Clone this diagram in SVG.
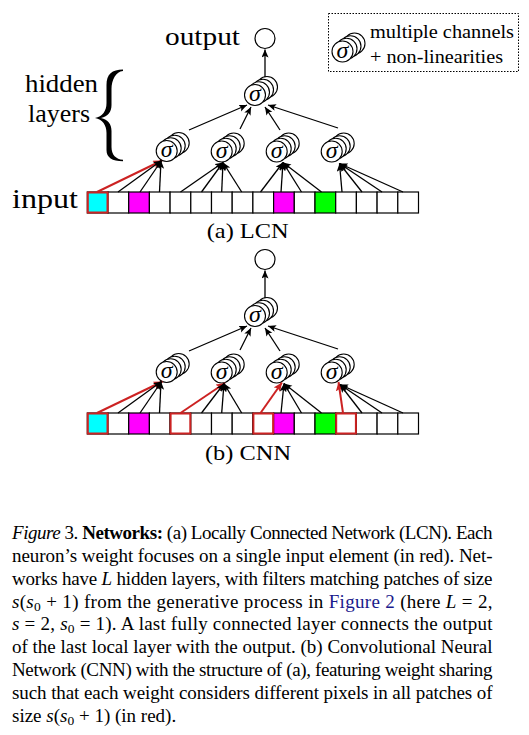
<svg xmlns="http://www.w3.org/2000/svg" xmlns:xlink="http://www.w3.org/1999/xlink" width="529" height="735" viewBox="0 0 529 735">
<style>
.bg{fill:#ffffff}
.c circle{fill:#ffffff;stroke:#000;stroke-width:1.1}
.sig{font-family:"Liberation Serif",serif;font-style:italic;font-size:24px;text-anchor:middle;fill:#000}
.lbl{font-family:"Liberation Serif",serif;fill:#000}
.cell{fill:#ffffff;stroke:#000;stroke-width:1.2}
.red{fill:none;stroke:#cc2222;stroke-width:2}
.ln{stroke:#000;stroke-width:1.3;fill:none;marker-end:url(#ah)}
.lr{stroke:#cc2222;stroke-width:2;fill:none;marker-end:url(#ahr)}
.cap{font-family:"Liberation Serif",serif;font-size:19px;fill:#000}
.it{font-style:italic}
</style>
<defs>
<marker id="ah" markerUnits="userSpaceOnUse" markerWidth="10" markerHeight="8" refX="8" refY="3.5" orient="auto"><path d="M0,0 L8,3.5 L0,7 L1.8,3.5 z" fill="#000"/></marker>
<marker id="ahr" markerUnits="userSpaceOnUse" markerWidth="10" markerHeight="9" refX="9" refY="4" orient="auto"><path d="M0,0 L9,4 L0,8 L2,4 z" fill="#cc2222"/></marker>
<g id="stk" class="c">
<circle cx="12" cy="-8" r="10.5"/>
<circle cx="8" cy="-5.3" r="10.5"/>
<circle cx="4" cy="-2.7" r="10.5"/>
<circle cx="0" cy="0" r="10.5"/>
<text class="sig" x="0" y="6">σ</text>
</g>
</defs>
<rect class="bg" x="0" y="0" width="529" height="735"/>

<!-- Legend -->
<g id="legend">
<rect x="328.5" y="13.5" width="190" height="58" fill="none" stroke="#000" stroke-width="1" stroke-dasharray="1.5,1.5"/>
<use xlink:href="#stk" x="342.5" y="51.5"/>
<text class="lbl" x="370" y="38.3" font-size="19" textLength="144" lengthAdjust="spacingAndGlyphs">multiple channels</text>
<text class="lbl" x="370" y="63.3" font-size="19" textLength="133" lengthAdjust="spacingAndGlyphs">+ non-linearities</text>
</g>

<!-- LCN labels -->
<g id="lcn-labels">
<text class="lbl" x="165" y="45" font-size="25" textLength="75" lengthAdjust="spacingAndGlyphs">output</text>
<text class="lbl" x="25" y="91.7" font-size="25" textLength="73" lengthAdjust="spacingAndGlyphs">hidden</text>
<text class="lbl" x="28" y="121.7" font-size="25" textLength="62" lengthAdjust="spacingAndGlyphs">layers</text>
<path d="M123,69.5 C112,69.5 106.5,74 106.5,85 L106.5,103 C106.5,111 102.5,116.5 95,118 C102.5,119.5 106.5,125 106.5,133 L106.5,150 C106.5,157.5 112,161.3 123,161.3 L123,159.8 C116,159.2 111.5,155 111.5,147 L111.5,131 C111.5,124 108,119.5 101,118 C108,116.5 111.5,112 111.5,105 L111.5,89 C111.5,80 116,71.5 123,71 Z" fill="#000"/>
<text class="lbl" x="12" y="208.3" font-size="27" textLength="66" lengthAdjust="spacingAndGlyphs">input</text>
<text class="lbl" x="206.7" y="238.3" font-size="22" textLength="82" lengthAdjust="spacingAndGlyphs">(a) LCN</text>
</g>

<!-- LCN nodes -->
<g id="lcn-output"><circle cx="265" cy="38.5" r="10" fill="#fff" stroke="#000" stroke-width="1.2"/></g>
<g id="lcn-h2"><use xlink:href="#stk" x="255" y="95"/></g>
<g id="lcn-h1-1"><use xlink:href="#stk" x="166.7" y="151"/></g>
<g id="lcn-h1-2"><use xlink:href="#stk" x="221.7" y="151.5"/></g>
<g id="lcn-h1-3"><use xlink:href="#stk" x="276.7" y="151.5"/></g>
<g id="lcn-h1-4"><use xlink:href="#stk" x="331.7" y="151.5"/></g>
<g id="lcn-input">
<rect class="cell" x="87.3" y="192" width="20.7" height="21" style="fill:#00ffff"/>
<rect class="cell" x="108" y="192" width="20.7" height="21"/>
<rect class="cell" x="128.7" y="192" width="20.7" height="21" style="fill:#ff00ff"/>
<rect class="cell" x="149.4" y="192" width="20.7" height="21"/>
<rect class="cell" x="170.1" y="192" width="20.7" height="21"/>
<rect class="cell" x="190.8" y="192" width="20.7" height="21"/>
<rect class="cell" x="211.5" y="192" width="20.7" height="21"/>
<rect class="cell" x="232.2" y="192" width="20.7" height="21"/>
<rect class="cell" x="252.9" y="192" width="20.7" height="21"/>
<rect class="cell" x="273.6" y="192" width="20.7" height="21" style="fill:#ff00ff"/>
<rect class="cell" x="294.3" y="192" width="20.7" height="21"/>
<rect class="cell" x="315" y="192" width="20.7" height="21" style="fill:#00ff00"/>
<rect class="cell" x="335.7" y="192" width="20.7" height="21"/>
<rect class="cell" x="356.4" y="192" width="20.7" height="21"/>
<rect class="cell" x="377.1" y="192" width="20.7" height="21"/>
<rect class="cell" x="397.8" y="192" width="20.7" height="21"/>
<rect class="red" x="87.8" y="192.5" width="19.7" height="20"/>
</g>

<!-- LCN connectors -->
<g id="lcn-connectors">
<line class="ln" x1="265" y1="77" x2="265" y2="49.5"/>
<line class="ln" x1="189" y1="130" x2="247" y2="105"/>
<line class="ln" x1="240" y1="129" x2="251" y2="107"/>
<line class="ln" x1="280" y1="130" x2="265" y2="107"/>
<line class="ln" x1="338" y1="128" x2="268" y2="105"/>
<line class="lr" x1="97" y1="192" x2="162" y2="160.5"/>
<line class="ln" x1="118" y1="192" x2="161.5" y2="160.5"/>
<line class="ln" x1="140" y1="192" x2="161.5" y2="160.5"/>
<line class="ln" x1="159.5" y1="192" x2="161" y2="160.5"/>
<line class="ln" x1="180.5" y1="192" x2="223" y2="162.5"/>
<line class="ln" x1="201.5" y1="192" x2="223" y2="162.5"/>
<line class="ln" x1="221.7" y1="192" x2="223" y2="162.5"/>
<line class="ln" x1="241.7" y1="192" x2="223" y2="162.5"/>
<line class="ln" x1="260.5" y1="192" x2="283" y2="162.5"/>
<line class="ln" x1="281" y1="192" x2="283" y2="162.5"/>
<line class="ln" x1="301.5" y1="192" x2="283" y2="162.5"/>
<line class="ln" x1="321.5" y1="192" x2="283" y2="162.5"/>
<line class="ln" x1="342" y1="192" x2="339.5" y2="163.5"/>
<line class="ln" x1="362" y1="192" x2="339.5" y2="163.5"/>
<line class="ln" x1="382" y1="192" x2="339.5" y2="163.5"/>
<line class="ln" x1="403" y1="192" x2="339.5" y2="163.5"/>
</g>

<!-- CNN -->
<g id="cnn-labels">
<text class="lbl" x="205" y="459.5" font-size="22" textLength="86" lengthAdjust="spacingAndGlyphs">(b) CNN</text>
</g>
<g id="cnn-output"><circle cx="265" cy="259.5" r="10" fill="#fff" stroke="#000" stroke-width="1.2"/></g>
<g id="cnn-h2"><use xlink:href="#stk" x="255" y="316"/></g>
<g id="cnn-h1-1"><use xlink:href="#stk" x="166.7" y="372"/></g>
<g id="cnn-h1-2"><use xlink:href="#stk" x="221.7" y="372.5"/></g>
<g id="cnn-h1-3"><use xlink:href="#stk" x="276.7" y="372.5"/></g>
<g id="cnn-h1-4"><use xlink:href="#stk" x="331.7" y="372.5"/></g>
<g id="cnn-input">
<rect class="cell" x="87.3" y="413" width="20.7" height="21" style="fill:#00ffff"/>
<rect class="cell" x="108" y="413" width="20.7" height="21"/>
<rect class="cell" x="128.7" y="413" width="20.7" height="21" style="fill:#ff00ff"/>
<rect class="cell" x="149.4" y="413" width="20.7" height="21"/>
<rect class="cell" x="170.1" y="413" width="20.7" height="21"/>
<rect class="cell" x="190.8" y="413" width="20.7" height="21"/>
<rect class="cell" x="211.5" y="413" width="20.7" height="21"/>
<rect class="cell" x="232.2" y="413" width="20.7" height="21"/>
<rect class="cell" x="252.9" y="413" width="20.7" height="21"/>
<rect class="cell" x="273.6" y="413" width="20.7" height="21" style="fill:#ff00ff"/>
<rect class="cell" x="294.3" y="413" width="20.7" height="21"/>
<rect class="cell" x="315" y="413" width="20.7" height="21" style="fill:#00ff00"/>
<rect class="cell" x="335.7" y="413" width="20.7" height="21"/>
<rect class="cell" x="356.4" y="413" width="20.7" height="21"/>
<rect class="cell" x="377.1" y="413" width="20.7" height="21"/>
<rect class="cell" x="397.8" y="413" width="20.7" height="21"/>
<rect class="red" x="87.8" y="413.5" width="19.7" height="20"/>
<rect class="red" x="170.6" y="413.5" width="19.7" height="20"/>
<rect class="red" x="253.4" y="413.5" width="19.7" height="20"/>
<rect class="red" x="336.2" y="413.5" width="19.7" height="20"/>
</g>
<g id="cnn-connectors">
<line class="ln" x1="265" y1="298" x2="265" y2="270.5"/>
<line class="ln" x1="189" y1="351" x2="247" y2="326"/>
<line class="ln" x1="240" y1="350" x2="251" y2="328"/>
<line class="ln" x1="280" y1="351" x2="265" y2="328"/>
<line class="ln" x1="338" y1="349" x2="268" y2="326"/>
<line class="lr" x1="97" y1="413" x2="162.5" y2="381.5"/>
<line class="ln" x1="118" y1="413" x2="161.5" y2="381.5"/>
<line class="ln" x1="140" y1="413" x2="161.5" y2="381.5"/>
<line class="ln" x1="159.5" y1="413" x2="161" y2="381.5"/>
<line class="lr" x1="180.5" y1="413" x2="225" y2="383"/>
<line class="ln" x1="201.5" y1="413" x2="224" y2="383.5"/>
<line class="ln" x1="221.7" y1="413" x2="224" y2="383.5"/>
<line class="ln" x1="241.7" y1="413" x2="224" y2="383.5"/>
<line class="lr" x1="260.5" y1="413" x2="282" y2="382.5"/>
<line class="ln" x1="281" y1="413" x2="284" y2="383.5"/>
<line class="ln" x1="301.5" y1="413" x2="284" y2="383.5"/>
<line class="ln" x1="321.5" y1="413" x2="284" y2="383.5"/>
<line class="lr" x1="343" y1="413" x2="338.5" y2="382"/>
<line class="ln" x1="362" y1="413" x2="340" y2="384.5"/>
<line class="ln" x1="382" y1="413" x2="340" y2="384.5"/>
<line class="ln" x1="403" y1="413" x2="340" y2="384.5"/>
</g>

<!-- Caption -->
<g id="caption">
<text class="cap" x="12" y="539" textLength="480.5"><tspan class="it">Figure</tspan> 3. <tspan font-weight="bold">Networks:</tspan> (a) Locally Connected Network (LCN). Each</text>
<text class="cap" x="12" y="561.9" textLength="480.5">neuron’s weight focuses on a single input element (in red). Net-</text>
<text class="cap" x="12" y="584.7" textLength="480.5">works have <tspan class="it">L</tspan> hidden layers, with filters matching patches of size</text>
<text class="cap" x="12" y="607.6" textLength="480.5"><tspan class="it">s</tspan>(<tspan class="it">s</tspan><tspan font-size="13.5" dy="3">0</tspan><tspan dy="-3"> + 1) from the generative process in </tspan><tspan fill="#1a1a8c">Figure 2</tspan> (here <tspan class="it">L</tspan> = 2,</text>
<text class="cap" x="12" y="630.4" textLength="480.5"><tspan class="it">s</tspan> = 2, <tspan class="it">s</tspan><tspan font-size="13.5" dy="3">0</tspan><tspan dy="-3"> = 1). A last fully connected layer connects the output</tspan></text>
<text class="cap" x="12" y="653.3" textLength="480.5">of the last local layer with the output. (b) Convolutional Neural</text>
<text class="cap" x="12" y="676.1" textLength="480.5">Network (CNN) with the structure of (a), featuring weight sharing</text>
<text class="cap" x="12" y="699" textLength="480.5">such that each weight considers different pixels in all patches of</text>
<text class="cap" x="12" y="721.8">size <tspan class="it">s</tspan>(<tspan class="it">s</tspan><tspan font-size="13.5" dy="3">0</tspan><tspan dy="-3"> + 1) (in red).</tspan></text>
</g>
</svg>
